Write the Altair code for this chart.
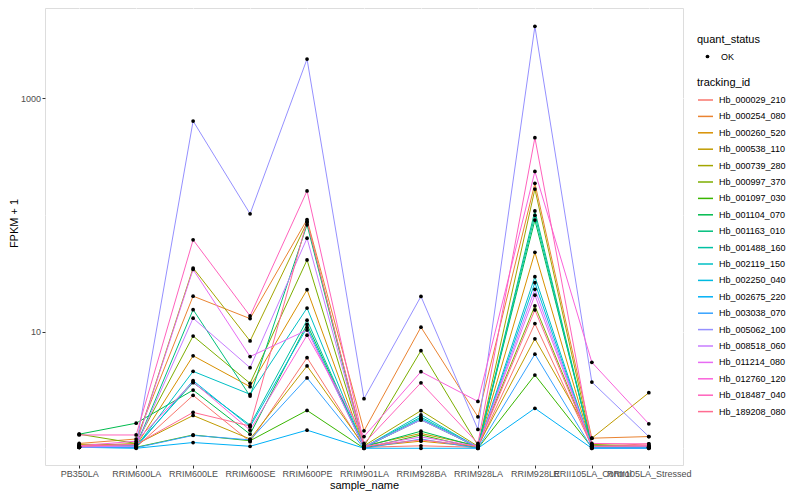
import altair as alt
import pandas as pd

samples = ["PB350LA", "RRIM600LA", "RRIM600LE", "RRIM600SE", "RRIM600PE", "RRIM901LA",
           "RRIM928BA", "RRIM928LA", "RRIM928LE", "RRII105LA_Control", "RRII105LA_Stressed"]

tracking_ids = ["Hb_000029_210", "Hb_000254_080", "Hb_000260_520", "Hb_000538_110", "Hb_000739_280",
                "Hb_000997_370", "Hb_001097_030", "Hb_001104_070", "Hb_001163_010", "Hb_001488_160",
                "Hb_002119_150", "Hb_002250_040", "Hb_002675_220", "Hb_003038_070", "Hb_005062_100",
                "Hb_008518_060", "Hb_011214_080", "Hb_012760_120", "Hb_018487_040", "Hb_189208_080"]

colors = ["#F8766D", "#EA8331", "#D89000", "#C09B00", "#A3A500", "#7CAE00", "#39B600", "#00BB4E",
          "#00BF7D", "#00C1A3", "#00BFC4", "#00BAE0", "#00B0F6", "#35A2FF", "#9590FF", "#C77CFF",
          "#E76BF3", "#FA62DB", "#FF62BC", "#FF6C91"]

# FPKM + 1 per sample (order of `samples`)
hb_000029_210 = [1.03, 1.02, 2.84, 1.14, 5.97, 1.02, 1.05, 1.02, 11.7, 1.04, 1.09]
hb_000254_080 = [1.10, 1.20, 20.1, 12.9, 91.0, 1.41, 10.9, 1.86, 186, 1.22, 1.26]
hb_000260_520 = [1.05, 1.05, 6.20, 3.37, 22.8, 1.03, 1.15, 1.03, 47.7, 1.03, 1.03]
hb_000538_110 = [1.08, 1.08, 1.91, 1.20, 5.07, 1.05, 1.34, 1.05, 8.67, 1.22, 2.99]
hb_000739_280 = [1.04, 1.10, 35.0, 8.30, 86.0, 1.05, 2.10, 1.04, 166, 1.08, 1.04]
hb_000997_370 = [1.32, 1.10, 9.15, 3.60, 41.0, 1.04, 6.85, 1.06, 16.6, 1.06, 1.03]
hb_001097_030 = [1.03, 1.02, 1.30, 1.16, 2.11, 1.00, 1.30, 1.00, 4.24, 1.02, 1.02]
hb_001104_070 = [1.32, 1.64, 3.15, 1.32, 11.5, 1.03, 1.40, 1.03, 90.0, 1.05, 1.02]
hb_001163_010 = [1.02, 1.05, 15.4, 2.80, 82.0, 1.02, 1.75, 1.02, 108, 1.03, 1.02]
hb_001488_160 = [1.03, 1.05, 3.65, 1.58, 12.5, 1.02, 1.85, 1.02, 99.0, 1.03, 1.02]
hb_002119_150 = [1.02, 1.03, 4.56, 2.90, 15.9, 1.02, 1.93, 1.02, 29.5, 1.02, 1.02]
hb_002250_040 = [1.02, 1.02, 3.80, 1.53, 10.8, 1.01, 1.80, 1.01, 26.2, 1.01, 1.01]
hb_002675_220 = [1.02, 1.00, 1.12, 1.04, 1.43, 1.00, 1.00, 1.00, 2.20, 1.00, 1.00]
hb_003038_070 = [1.02, 1.01, 1.29, 1.18, 4.00, 1.00, 1.20, 1.00, 6.40, 1.00, 1.00]
hb_005062_100 = [1.02, 1.05, 635, 102, 2158, 2.66, 20.0, 1.45, 4110, 3.69, 1.26]
hb_008518_060 = [1.03, 1.04, 13.0, 4.90, 63.0, 1.03, 1.75, 1.03, 23.0, 1.03, 1.03]
hb_011214_080 = [1.04, 1.08, 34.0, 6.10, 10.3, 1.03, 1.25, 1.04, 20.5, 1.04, 1.05]
hb_012760_120 = [1.05, 1.15, 3.70, 1.43, 9.30, 1.26, 4.53, 2.52, 235, 5.45, 1.62]
hb_018487_040 = [1.30, 1.30, 61.0, 13.6, 160, 1.10, 3.64, 1.10, 457, 1.10, 1.09]
hb_189208_080 = [1.04, 1.08, 2.03, 1.55, 88.0, 1.04, 1.18, 1.04, 15.3, 1.04, 1.05]

series = [hb_000029_210, hb_000254_080, hb_000260_520, hb_000538_110, hb_000739_280,
          hb_000997_370, hb_001097_030, hb_001104_070, hb_001163_010, hb_001488_160,
          hb_002119_150, hb_002250_040, hb_002675_220, hb_003038_070, hb_005062_100,
          hb_008518_060, hb_011214_080, hb_012760_120, hb_018487_040, hb_189208_080]

rows = []
for tid, vals in zip(tracking_ids, series):
    for i, (s, v) in enumerate(zip(samples, vals)):
        rows.append({"tracking_id": tid, "sample_name": s, "idx": i, "fpkm": v, "quant_status": "OK"})
df = pd.DataFrame(rows)

FONT = "Liberation Sans"
PLOT_W, PLOT_H = 638, 457
ymin, ymax = 0.719, 5904

x_enc = alt.X("sample_name:N", sort=samples,
              scale=alt.Scale(type="point", padding=0.6),
              axis=alt.Axis(title="sample_name", labelAngle=0, labelOverlap=False,
                            labelColor="#4D4D4D", labelFontSize=9, labelPadding=1.5,
                            tickSize=3, tickColor="#333333", domain=False,
                            grid=True, gridColor="#FFFFFF", gridWidth=1.1,
                            titleFontSize=11, titleFontWeight="normal", titleColor="#000000",
                            titlePadding=1, labelFont=FONT, titleFont=FONT))

major_test = "datum.value == 10 || datum.value == 1000"
y_enc = alt.Y("fpkm:Q",
              scale=alt.Scale(type="log", domain=[ymin, ymax], nice=False),
              axis=alt.Axis(title="FPKM + 1", values=[1, 10, 100, 1000], format="d",
                            labelExpr=f"({major_test}) ? datum.label : ''",
                            labelColor="#4D4D4D", labelFontSize=9, labelPadding=1.5,
                            tickSize=3,
                            tickColor={"condition": {"test": major_test, "value": "#333333"}, "value": "transparent"},
                            domain=False, grid=True, gridColor="#FFFFFF",
                            gridWidth={"condition": {"test": major_test, "value": 1.1}, "value": 0.55},
                            titleFontSize=11, titleFontWeight="normal", titleColor="#000000",
                            titlePadding=1, titleY=215, labelFont=FONT, titleFont=FONT))

base = alt.Chart(df)

lines = base.mark_line(strokeWidth=1).encode(
    x=x_enc, y=y_enc,
    color=alt.Color("tracking_id:N", sort=tracking_ids,
                    scale=alt.Scale(domain=tracking_ids, range=colors),
                    legend=alt.Legend(title="tracking_id", orient="none", legendX=652, legendY=69,
                                      symbolType="stroke", symbolSize=225, symbolStrokeWidth=1.5,
                                      labelFontSize=9, titleFontSize=11, titleFontWeight="normal",
                                      titleColor="#000000", labelColor="#000000",
                                      titlePadding=3.5, rowPadding=2.4, labelOffset=5,
                                      padding=0, labelFont=FONT, titleFont=FONT)),
    order=alt.Order("idx:Q"),
)

points = base.mark_point(filled=True, size=14, opacity=1, color="black").encode(
    x=x_enc, y=y_enc,
    shape=alt.Shape("quant_status:N", scale=alt.Scale(domain=["OK"], range=["circle"]),
                    legend=alt.Legend(title="quant_status", orient="none", legendX=652, legendY=26,
                                      symbolSize=14, symbolFillColor="black", symbolStrokeColor="black",
                                      symbolOffset=6, labelOffset=9,
                                      labelFontSize=9, titleFontSize=11, titleFontWeight="normal",
                                      titleColor="#000000", labelColor="#000000",
                                      titlePadding=7, padding=0, labelFont=FONT, titleFont=FONT)),
)

chart = alt.layer(lines, points).properties(
    width=PLOT_W, height=PLOT_H,
    autosize=alt.AutoSizeParams(type="none"),
    padding={"left": 37, "top": 0, "right": 109, "bottom": 27},
).configure_view(fill="#EBEBEB", stroke=None).configure(font=FONT)

chart.save("out.html", embed_options={"renderer": "svg", "actions": False})
